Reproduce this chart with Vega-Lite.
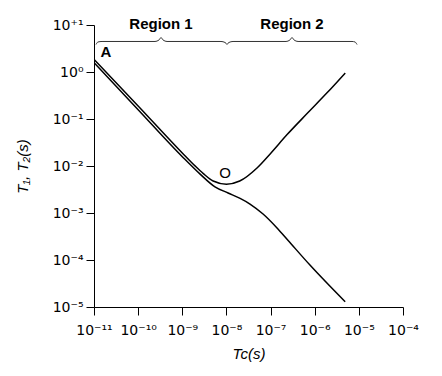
{
  "$schema": "https://vega.github.io/schema/vega-lite/v6.json",
  "width": 309,
  "height": 282,
  "autosize": {"type": "none"},
  "padding": {"left": 94, "top": 25, "right": 39, "bottom": 69},
  "background": "white",
  "config": {
    "view": {"stroke": null},
    "font": "Liberation Sans",
    "axis": {
      "grid": false,
      "domainColor": "black",
      "tickColor": "black",
      "labelColor": "black",
      "titleColor": "black",
      "tickSize": 8,
      "labelFont": "DejaVu Sans",
      "labelFontSize": 14,
      "titleFont": "Liberation Sans",
      "titleFontSize": 15,
      "titleFontWeight": "normal",
      "titleFontStyle": "italic"
    }
  },
  "datasets": {
    "curves": [
      {"tc": 1.02e-11, "t": 1.82, "series": "T1"},
      {"tc": 1e-10, "t": 0.19, "series": "T1"},
      {"tc": 1e-9, "t": 0.019, "series": "T1"},
      {"tc": 2e-9, "t": 0.0098, "series": "T1"},
      {"tc": 3e-9, "t": 0.0069, "series": "T1"},
      {"tc": 5e-9, "t": 0.0048, "series": "T1"},
      {"tc": 1e-8, "t": 0.0041, "series": "T1"},
      {"tc": 2e-8, "t": 0.0048, "series": "T1"},
      {"tc": 5e-8, "t": 0.0092, "series": "T1"},
      {"tc": 1e-7, "t": 0.0185, "series": "T1"},
      {"tc": 2.34e-7, "t": 0.046, "series": "T1"},
      {"tc": 6.8e-7, "t": 0.132, "series": "T1"},
      {"tc": 1.9e-6, "t": 0.36, "series": "T1"},
      {"tc": 4.9e-6, "t": 0.95, "series": "T1"},
      {"tc": 1.02e-11, "t": 1.55, "series": "T2"},
      {"tc": 1e-10, "t": 0.158, "series": "T2"},
      {"tc": 1e-9, "t": 0.0158, "series": "T2"},
      {"tc": 2.5e-9, "t": 0.0068, "series": "T2"},
      {"tc": 5.5e-9, "t": 0.0036, "series": "T2"},
      {"tc": 1.09e-8, "t": 0.00267, "series": "T2"},
      {"tc": 2.04e-8, "t": 0.00204, "series": "T2"},
      {"tc": 3.42e-8, "t": 0.00155, "series": "T2"},
      {"tc": 6.76e-8, "t": 0.00095, "series": "T2"},
      {"tc": 1.4e-7, "t": 0.00048, "series": "T2"},
      {"tc": 2.5e-7, "t": 0.00026, "series": "T2"},
      {"tc": 7.8e-7, "t": 7.8e-5, "series": "T2"},
      {"tc": 4.9e-6, "t": 1.29e-5, "series": "T2"}
    ],
    "braces": [
      {"tc": 1.11e-11, "t": 3.85, "part": "Region 1"},
      {"tc": 1.23e-11, "t": 4.35, "part": "Region 1"},
      {"tc": 1.52e-11, "t": 4.46, "part": "Region 1"},
      {"tc": 2.41e-10, "t": 4.46, "part": "Region 1"},
      {"tc": 2.97e-10, "t": 4.8, "part": "Region 1"},
      {"tc": 3.3e-10, "t": 5.42, "part": "Region 1"},
      {"tc": 3.66e-10, "t": 4.8, "part": "Region 1"},
      {"tc": 4.51e-10, "t": 4.46, "part": "Region 1"},
      {"tc": 7.53e-9, "t": 4.46, "part": "Region 1"},
      {"tc": 9.29e-9, "t": 4.25, "part": "Region 1"},
      {"tc": 1.03e-8, "t": 3.85, "part": "Region 1"},
      {"tc": 1.03e-8, "t": 3.85, "part": "Region 2"},
      {"tc": 1.14e-8, "t": 4.25, "part": "Region 2"},
      {"tc": 1.41e-8, "t": 4.46, "part": "Region 2"},
      {"tc": 2.24e-7, "t": 4.46, "part": "Region 2"},
      {"tc": 2.75e-7, "t": 4.8, "part": "Region 2"},
      {"tc": 3.06e-7, "t": 5.42, "part": "Region 2"},
      {"tc": 3.4e-7, "t": 4.8, "part": "Region 2"},
      {"tc": 4.19e-7, "t": 4.46, "part": "Region 2"},
      {"tc": 7.0e-6, "t": 4.46, "part": "Region 2"},
      {"tc": 8.18e-6, "t": 4.35, "part": "Region 2"},
      {"tc": 9.08e-6, "t": 3.85, "part": "Region 2"}
    ],
    "labels": [
      {"tc": 3.3e-10, "t": 10.4, "text": "Region 1", "kind": "bold"},
      {"tc": 3.06e-7, "t": 10.4, "text": "Region 2", "kind": "bold"},
      {"tc": 1.87e-11, "t": 2.67, "text": "A", "kind": "bold"},
      {"tc": 9.3e-9, "t": 0.0071, "text": "O", "kind": "plain"}
    ]
  },
  "layer": [
    {
      "data": {"name": "curves"},
      "mark": {"type": "line", "interpolate": "monotone", "color": "black", "strokeWidth": 1.5, "clip": false},
      "encoding": {
        "x": {
          "field": "tc", "type": "quantitative",
          "scale": {"type": "log", "domain": [1e-11, 0.0001], "nice": false},
          "axis": {
            "values": [1e-11, 1e-10, 1e-9, 1e-8, 1e-7, 1e-6, 1e-5, 0.0001],
            "labelExpr": "'10' + ['⁻¹¹','⁻¹⁰','⁻⁹','⁻⁸','⁻⁷','⁻⁶','⁻⁵','⁻⁴'][round(log(datum.value)/LN10) + 11]",
            "labelPadding": 8,
            "labelFlush": false,
            "title": "Tc(s)",
            "titlePadding": 9
          }
        },
        "y": {
          "field": "t", "type": "quantitative",
          "scale": {"type": "log", "domain": [1e-5, 10], "nice": false},
          "axis": {
            "values": [1e-5, 0.0001, 0.001, 0.01, 0.1, 1, 10],
            "labelExpr": "'10' + ['⁻⁵','⁻⁴','⁻³','⁻²','⁻¹','⁰','⁺¹'][round(log(datum.value)/LN10) + 5]",
            "labelPadding": 3,
            "labelFlush": false,
            "title": "T₁, T₂(s)",
            "titlePadding": 22
          }
        },
        "detail": {"field": "series"}
      }
    },
    {
      "data": {"name": "braces"},
      "mark": {"type": "line", "interpolate": "monotone", "color": "#333333", "strokeWidth": 1, "clip": false},
      "encoding": {
        "x": {"field": "tc", "type": "quantitative"},
        "y": {"field": "t", "type": "quantitative"},
        "detail": {"field": "part"}
      }
    },
    {
      "data": {"name": "labels"},
      "transform": [{"filter": "datum.kind == 'bold'"}],
      "mark": {"type": "text", "fontSize": 15, "fontWeight": "bold", "color": "black", "align": "center", "baseline": "middle"},
      "encoding": {
        "x": {"field": "tc", "type": "quantitative"},
        "y": {"field": "t", "type": "quantitative"},
        "text": {"field": "text"}
      }
    },
    {
      "data": {"name": "labels"},
      "transform": [{"filter": "datum.kind == 'plain'"}],
      "mark": {"type": "text", "fontSize": 15, "color": "black", "align": "center", "baseline": "middle"},
      "encoding": {
        "x": {"field": "tc", "type": "quantitative"},
        "y": {"field": "t", "type": "quantitative"},
        "text": {"field": "text"}
      }
    }
  ]
}
